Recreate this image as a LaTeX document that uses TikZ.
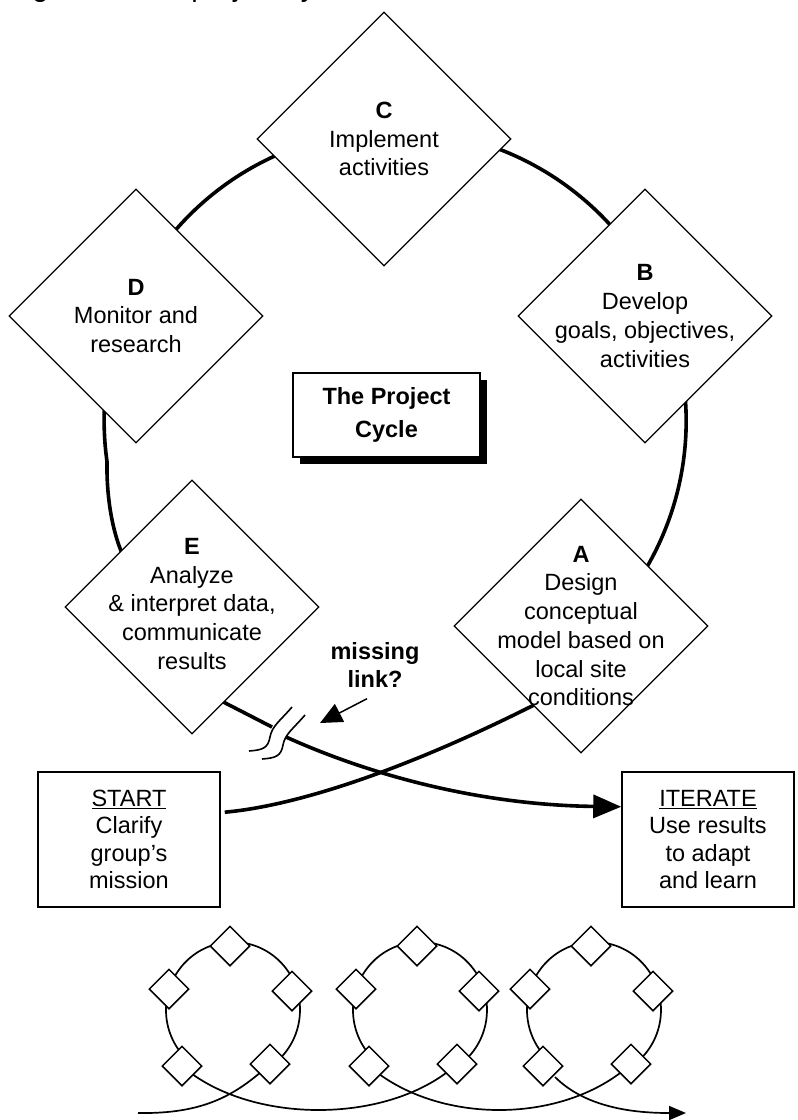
\documentclass[tikz,border=0pt]{standalone}
\usepackage{fontspec}
\setmainfont{Liberation Sans}
\usetikzlibrary{shapes.geometric,arrows.meta,shadows,calc}
\pgfdeclarelayer{bg}
\pgfsetlayers{bg,main}

\begin{document}
\begin{tikzpicture}[x=1pt,y=-1pt,
  stage/.style={diamond, draw, fill=white, line width=1.3pt,
    minimum width=254pt, minimum height=254pt, inner sep=0pt},
  stagetext/.style={align=center, inner sep=0pt,
    font=\fontsize{23.5}{28.7}\selectfont},
  cyc/.style={line width=3.6pt},
  endbox/.style={rectangle, draw, fill=white, line width=1.5pt,
    minimum height=135pt, align=center, inner sep=0pt,
    font=\fontsize{23.5}{27.3}\selectfont},
  breakmark/.style={line width=1.6pt},
  mini/.style={diamond, draw, fill=white, line width=1.5pt,
    minimum width=40pt, minimum height=40pt, inner sep=0pt},
  small/.style={line width=1.7pt},
]
\useasboundingbox (0,0) rectangle (798,1120);

% caption line cut by the page edge
\node[anchor=base west, inner sep=0pt, font=\fontsize{29}{34}\selectfont]
  (caption) at (8,-4) {Figure 1. The project cycle};

% the five stages of the cycle
\node[stage] (C) at (384,139) {};
\node[stage] (D) at (136,316) {};
\node[stage] (B) at (645,316) {};
\node[stage] (E) at (192,607) {};
\node[stage] (A) at (581,626) {};

\node[stagetext] (Ct) at (C) {\textbf{C}\\Implement\\activities};
\node[stagetext] (Dt) at (D) {\textbf{D}\\Monitor and\\research};
\node[stagetext] (Bt) at (B) {\textbf{B}\\Develop\\goals, objectives,\\activities};
\node[stagetext] (Et) at ([yshift=3pt]E.center) {\textbf{E}\\Analyze\\\& interpret data,\\communicate\\results};
\node[stagetext] (At) at (A) {\textbf{A}\\Design\\conceptual\\model based on\\local site\\conditions};

% centre title with its shadow
\node[draw, fill=white, line width=1.5pt, minimum width=187pt, minimum height=84pt,
  align=center, inner sep=0pt, font=\bfseries\fontsize{23.5}{33}\selectfont,
  drop shadow={shadow xshift=7pt, shadow yshift=-7pt, fill=black, opacity=1}]
  (title) at (386.5,415) {The Project\\Cycle};

% start and iterate boxes
\node[endbox, minimum width=182pt] (start) at (129,839.5)
  {\underline{START}\\Clarify\\group’s\\mission};
\node[endbox, minimum width=172pt] (iterate) at (708,839.5)
  {\underline{ITERATE}\\Use results\\to adapt\\and learn};

% missing link note
\node[align=center, inner sep=0pt, font=\bfseries\fontsize{23.5}{28}\selectfont]
  (ml) at (375,665) {missing\\link?};

\coordinate (brkA) at (272,727);
\coordinate (brkB) at (286,737);
\coordinate (startpt) at ($($(start.north east)!0.3!(start.south east)$)+(4,0)$);
\coordinate (itpt) at ($(iterate.north west)!0.26!(iterate.south west)$);
\coordinate (mlend) at (320,723);

\begin{pgfonlayer}{bg}
  % the cycle: from E up round through D, C, B down to A
  \draw[cyc] (E.center) -- (150,590) .. controls (120,572) and (106,515) .. (107,461.5)
    arc[start angle=172, end angle=395, radius=291] -- (A.center);
  % from A out to the start box
  \draw[cyc] (A.center) -- (560,692) -- (530,707)
    .. controls (400,772) and (294,806) .. (startpt);
  % from E out to the iterate box, broken by the missing link
  \draw[cyc] (E.center) -- (200,690) -- (brkA);
\end{pgfonlayer}

\draw[cyc, -{Triangle[length=28pt,width=23pt]}] (brkB)
  .. controls (370,775) and (480,805) .. (itpt);

% break marks on the E connector
\draw[breakmark] (249,751) .. controls (263,750) and (268,748) .. (270,737)
  .. controls (272,726) and (280,721) .. (292,707);
\draw[breakmark] (262,759) .. controls (276,758) and (281,756) .. (283,745)
  .. controls (285,734) and (293,729) .. (305,715);

\draw[line width=1.5pt, -{Triangle[length=22pt,width=20pt]}]
  ([shift={(-8,11)}]ml.south) -- (mlend);

% repeated cycles along a spiral
\foreach \o [count=\k] in {0,187,361} {
  \coordinate (cc\k) at (233+\o,1010);
  \node[mini] (t\k) at (230+\o,946) {};
  \node[mini] (l\k) at (169+\o,989) {};
  \node[mini] (r\k) at (292+\o,991) {};
  \node[mini] (bl\k) at (182+\o,1066) {};
  \node[mini] (br\k) at (270+\o,1064) {};
}
\coordinate (s0) at (138,1113);
\coordinate (s1) at (686,1113);

\begin{pgfonlayer}{bg}
  \foreach \k in {1,2,3} {
    \draw[small] ([shift={(132:67 and 68)}]cc\k)
      arc[start angle=132, end angle=416, x radius=67, y radius=68];
  }
  \draw[small] (s0) .. controls +(65,1) and +(-35,32) .. (br1.center);
  \draw[small] (bl1.center) .. controls +(68,59) and +(-67,61) .. (br2.center);
  \draw[small] (bl2.center) .. controls +(68,59) and +(-67,61) .. (br3.center);
\end{pgfonlayer}
\draw[small, -{Triangle[length=17pt,width=14pt]}]
  ([shift={(12,11)}]bl3.center) .. controls (588,1110) and (641,1113) .. (s1);
\end{tikzpicture}
\end{document}
